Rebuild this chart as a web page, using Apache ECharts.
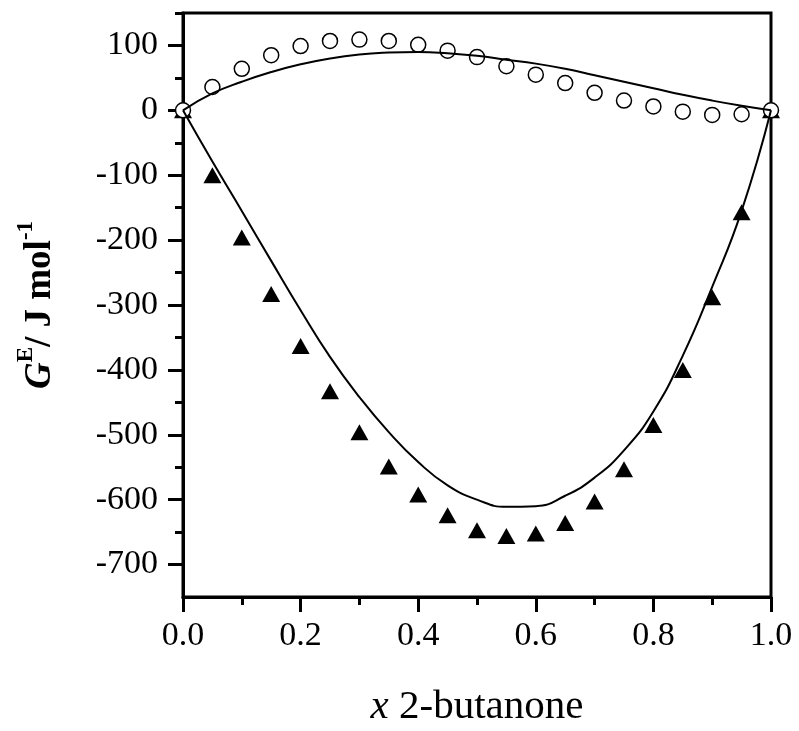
<!DOCTYPE html>
<html>
<head>
<meta charset="utf-8">
<script src="https://cdn.jsdelivr.net/npm/echarts@6/dist/echarts.min.js"></script>
<style>
  html, body { margin: 0; padding: 0; background: #fff; }
  #chart { width: 799px; height: 731px; }
</style>
</head>
<body>
<div id="chart"></div>
<script>
// mole fraction of 2-butanone
var xFrac = [0, 0.05, 0.1, 0.15, 0.2, 0.25, 0.3, 0.35, 0.4, 0.45, 0.5,
             0.55, 0.6, 0.65, 0.7, 0.75, 0.8, 0.85, 0.9, 0.95, 1.0];
// open circles (experimental)
var circleVals = [0, 36, 64, 85, 99, 107, 109, 107, 101, 92, 82,
                  68, 55, 42, 27, 15, 6, -2, -7, -6, 0];
// filled triangles (experimental)
var triangleVals = [0, -100, -196, -283, -363, -433, -496, -549, -592, -624, -647,
                    -656, -652, -636, -603, -553, -485, -400, -288, -157, 0];
// fitted curves
var circleFit = [0, 26, 44, 59, 71, 80, 86, 89, 90, 88, 84,
                 78, 72, 64, 54, 44, 34, 24, 15, 7, 0];
var triangleFit = [0, -79, -155, -232, -308, -380, -442, -496, -542, -578, -600,
                   -611, -610, -594, -566, -524, -464, -378, -272, -155, 0];
// y tick labels
var yMajor = [-700, -600, -500, -400, -300, -200, -100, 0, 100];
var yMinor = [-650, -550, -450, -350, -250, -150, -50, 50, 150];

function pairs(ys) {
  var out = [];
  xFrac.forEach(function (x, i) { out.push([x, ys[i]]); });
  return out;
}

var serif = "Liberation Serif";
var myChart = echarts.init(document.getElementById("chart"));
var option = {
  backgroundColor: "#fff",
  animation: false,
  grid: {
    left: 183, right: 28, top: 13, bottom: 134,
    outerBoundsMode: "none",
    show: true, borderColor: "#000", borderWidth: 3
  },
  xAxis: {
    type: "value",
    min: 0, max: 1, interval: 0.2,
    name: "{i|x} 2-butanone",
    nameLocation: "middle",
    nameGap: 90,
    nameTextStyle: {
      fontFamily: serif, fontSize: 41, color: "#000",
      rich: { i: { fontFamily: serif, fontSize: 41, fontStyle: "italic", color: "#000" } }
    },
    axisLine: { onZero: false, lineStyle: { color: "#000", width: 3 } },
    axisTick: { inside: false, length: 15, lineStyle: { color: "#000", width: 3 } },
    minorTick: { show: true, splitNumber: 2, length: 8, lineStyle: { color: "#000", width: 3 } },
    axisLabel: {
      margin: 22, fontFamily: serif, fontSize: 34, color: "#000",
      formatter: function (v) { return v.toFixed(1); }
    },
    splitLine: { show: false }
  },
  yAxis: [{
    type: "value",
    min: -750, max: 150,
    name: "{g|G}{sup|E}{n|/ J mol}{sup|-1}",
    nameLocation: "middle",
    nameRotate: 90,
    nameGap: 124,
    nameTextStyle: {
      fontFamily: serif, fontSize: 37, fontWeight: "bold", color: "#000",
      rich: {
        g: { fontFamily: serif, fontSize: 37, fontWeight: "bold", fontStyle: "italic", color: "#000", lineHeight: 44, verticalAlign: "bottom" },
        n: { fontFamily: serif, fontSize: 37, fontWeight: "bold", color: "#000", lineHeight: 44, verticalAlign: "bottom" },
        sup: { fontFamily: serif, fontSize: 23, fontWeight: "bold", color: "#000", lineHeight: 23, verticalAlign: "top" }
      }
    },
    axisLine: { onZero: false, lineStyle: { color: "#000", width: 3 } },
    axisTick: { inside: false, length: 15, customValues: yMajor, lineStyle: { color: "#000", width: 3 } },
    axisLabel: { margin: 25, fontFamily: serif, fontSize: 34, color: "#000", customValues: yMajor },
    splitLine: { show: false }
  }, {
    type: "value",
    position: "left",
    min: -750, max: 150,
    axisLine: { show: false, onZero: false },
    axisTick: { inside: false, length: 8, customValues: yMinor, lineStyle: { color: "#000", width: 3 } },
    axisLabel: { show: false },
    splitLine: { show: false }
  }],
  series: [{
    type: "line",
    data: pairs(circleFit),
    smooth: 0.5,
    showSymbol: false,
    lineStyle: { color: "#000", width: 2 }
  }, {
    type: "line",
    data: pairs(triangleFit),
    smooth: 0.5,
    showSymbol: false,
    lineStyle: { color: "#000", width: 2 }
  }, {
    type: "scatter",
    data: pairs(triangleVals),
    symbol: "triangle",
    symbolSize: [18, 16],
    itemStyle: { color: "#000", opacity: 1 }
  }, {
    type: "scatter",
    data: pairs(circleVals),
    symbol: "circle",
    symbolSize: 15,
    itemStyle: { color: "#fff", borderColor: "#000", borderWidth: 1.5, opacity: 1 }
  }]
};
myChart.setOption(option, true);
</script>
</body>
</html>
